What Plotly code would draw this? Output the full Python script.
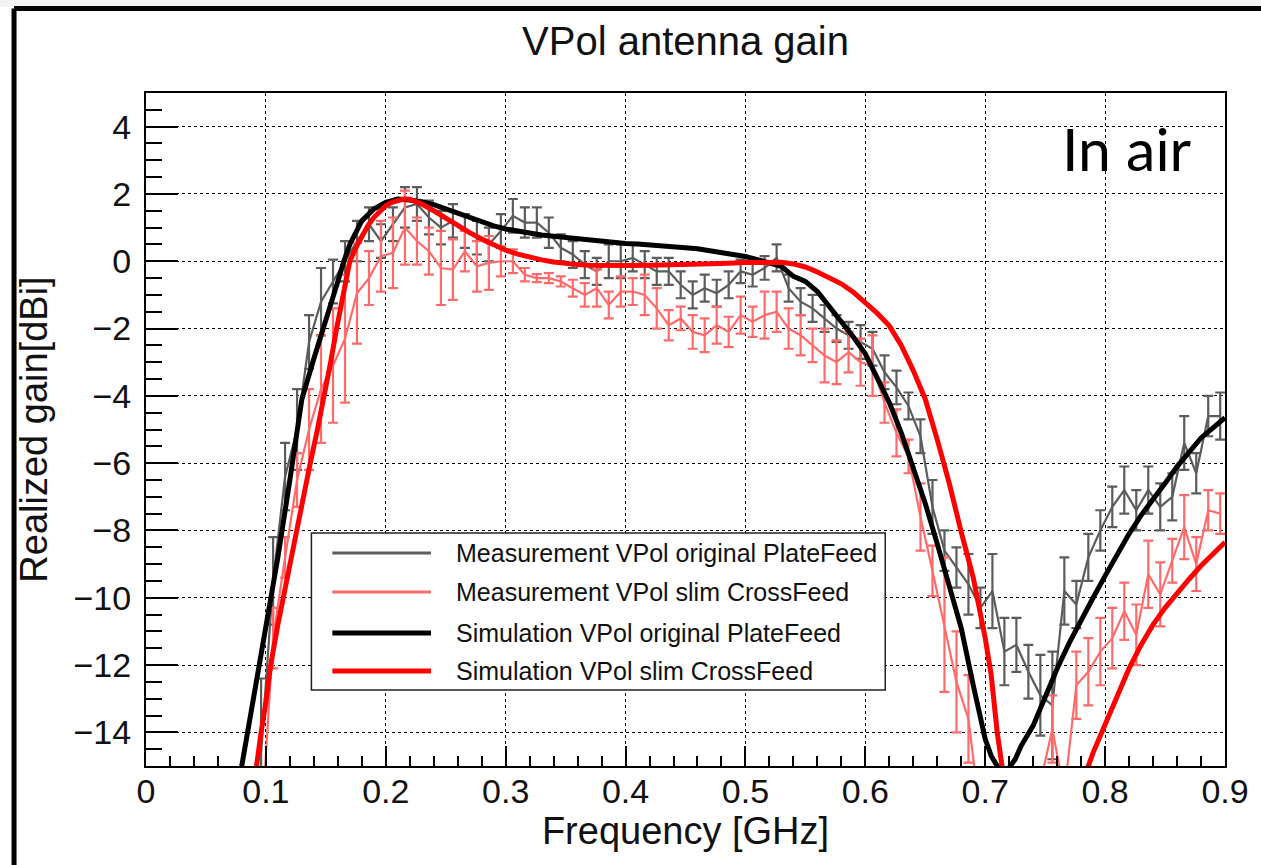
import plotly.graph_objects as go

# ---- measured gain, sampled every 10 MHz (GHz, dBi, +/- error) ----
freq_meas = [round(0.096 + 0.01 * k, 3) for k in range(81)]

gain_plate = [
    -14.6, -9.5, -6.4, -5.0, -2.4, -1.2, -0.6, 0.0, 0.6, 1.1,
    0.6, 1.1, 1.6, 1.7, 1.3, 1.0, 1.2, 0.9, 0.7, 0.5,
    0.9, 1.35, 1.15, 1.15, 0.85, 0.4, 0.2, -0.1, -0.3, 0.0,
    0.0, 0.1, -0.1, -0.3, -0.3, -0.7, -1.0, -0.8, -0.95, -0.7,
    -0.3, -0.4, -0.2, 0.1, -0.8, -1.2, -1.4, -1.7, -2.0, -2.2,
    -2.4, -2.6, -3.3, -3.75, -4.3, -5.2, -7.3, -8.6, -9.1, -9.6,
    -10.3, -9.8, -11.6, -11.4, -12.2, -12.9, -13.2, -9.8, -10.2, -8.8,
    -8.0, -7.3, -6.8, -7.4, -6.8, -7.3, -7.0, -5.4, -6.3, -4.6,
    -4.6,
]
err_plate = [
    2.2, 1.3, 1.0, 1.2, 0.8, 1.0, 0.65, 0.6, 0.6, 0.5,
    0.5, 0.5, 0.6, 0.5, 0.5, 0.5, 0.5, 0.5, 0.5, 0.5,
    0.5, 0.5, 0.45, 0.45, 0.45, 0.4, 0.4, 0.4, 0.4, 0.5,
    0.5, 0.4, 0.4, 0.4, 0.4, 0.4, 0.4, 0.4, 0.4, 0.4,
    0.35, 0.35, 0.35, 0.4, 0.4, 0.4, 0.4, 0.4, 0.4, 0.4,
    0.5, 0.5, 0.5, 0.5, 0.4, 0.5, 0.8, 0.6, 0.6, 0.9,
    0.6, 1.1, 1.0, 0.8, 0.8, 1.2, 1.6, 1.0, 0.7, 0.7,
    0.6, 0.6, 0.7, 0.6, 0.7, 0.7, 0.7, 0.8, 0.6, 0.6,
    0.7,
]

gain_cross = [
    -17.0, -11.2, -8.8, -6.5, -5.0, -3.8, -3.1, -2.3, -0.95, -0.5,
    0.15, 0.25, 1.0, 0.6, 0.3, -0.2, -0.25, 0.3, -0.15, -0.05,
    0.0, 0.0, -0.4, -0.5, -0.5, -0.6, -0.8, -1.0, -0.8, -1.3,
    -0.9, -0.9, -1.0, -1.4, -1.9, -1.7, -2.1, -2.2, -1.9, -2.1,
    -1.6, -1.8, -1.6, -1.5, -2.0, -2.2, -2.5, -2.8, -3.0, -2.7,
    -3.0, -3.1, -4.2, -5.1, -5.8, -7.6, -9.2, -10.8, -12.5, -13.6,
    -16.5, -18.0, -18.0, -18.0, -17.0, -15.5, -13.9, -15.8, -12.6, -12.2,
    -11.6, -11.2, -10.4, -11.1, -9.3, -9.9, -8.9, -7.9, -9.0, -7.4,
    -7.5,
]
err_cross = [
    0.0, 0.9, 0.6, 0.8, 1.2, 1.6, 1.7, 1.9, 1.5, 0.8,
    1.05, 1.05, 1.1, 0.7, 0.7, 1.1, 0.9, 0.6, 0.75, 0.8,
    0.45, 0.35, 0.2, 0.12, 0.15, 0.15, 0.25, 0.35, 0.55, 0.4,
    0.45, 0.4, 0.6, 0.6, 0.45, 0.35, 0.5, 0.5, 0.55, 0.45,
    0.55, 0.45, 0.7, 0.6, 0.6, 0.6, 0.5, 0.8, 0.65, 0.6,
    0.7, 0.9, 0.6, 0.7, 0.5, 1.0, 0.75, 2.0, 1.5, 1.3,
    0.0, 0.0, 0.0, 0.0, 0.0, 0.0, 1.0, 0.0, 1.0, 1.0,
    1.0, 0.9, 0.85, 0.9, 1.0, 0.95, 0.65, 0.95, 0.8, 0.6,
    0.6,
]

# ---- simulated gain ----
freq_sim_plate = [
    0.075, 0.08, 0.085, 0.09, 0.095, 0.10, 0.105, 0.11, 0.12, 0.13,
    0.14, 0.15, 0.16, 0.165, 0.17, 0.18, 0.19, 0.20, 0.21, 0.22,
    0.23, 0.24, 0.25, 0.26, 0.27, 0.28, 0.29, 0.30, 0.31, 0.32,
    0.33, 0.34, 0.35, 0.36, 0.37, 0.38, 0.39, 0.40, 0.41, 0.42,
    0.43, 0.44, 0.45, 0.46, 0.47, 0.48, 0.49, 0.50, 0.51, 0.52,
    0.53, 0.54, 0.55, 0.56, 0.57, 0.58, 0.59, 0.60, 0.61, 0.62,
    0.63, 0.64, 0.65, 0.66, 0.67, 0.68, 0.69, 0.70, 0.705, 0.71,
    0.715, 0.72, 0.725, 0.73, 0.74, 0.75, 0.76, 0.77, 0.78, 0.79,
    0.80, 0.81, 0.82, 0.83, 0.84, 0.85, 0.86, 0.87, 0.88, 0.89,
    0.90,
]
gain_sim_plate = [
    -16.0, -15.0, -14.0, -12.8, -12.0, -11.0, -10.0, -8.8, -6.5, -4.1,
    -2.9, -1.8, -0.6, 0.0, 0.5, 1.2, 1.55, 1.75, 1.85, 1.82,
    1.77, 1.68, 1.55, 1.42, 1.30, 1.18, 1.05, 0.96, 0.89, 0.83,
    0.78, 0.74, 0.70, 0.66, 0.62, 0.59, 0.56, 0.53, 0.51, 0.49,
    0.47, 0.44, 0.40, 0.37, 0.32, 0.27, 0.21, 0.14, 0.05, -0.05,
    -0.15, -0.45, -0.60, -0.9, -1.35, -1.75, -2.25, -2.75, -3.45, -4.2,
    -5.1, -6.1, -7.2, -8.4, -9.6, -10.9, -12.6, -14.2, -14.7, -15.0,
    -15.15, -15.05, -14.8, -14.4, -13.8, -12.95, -12.1, -11.35, -10.65, -10.0,
    -9.35, -8.7, -8.1, -7.55, -7.1, -6.6, -6.1, -5.65, -5.25, -4.95,
    -4.65,
]

freq_sim_cross = [
    0.088, 0.092, 0.096, 0.10, 0.104, 0.11, 0.115, 0.12, 0.125, 0.13,
    0.137, 0.143, 0.149, 0.154, 0.159, 0.165, 0.17, 0.175, 0.18, 0.185,
    0.19, 0.195, 0.20, 0.205, 0.21, 0.215, 0.22, 0.23, 0.24, 0.25,
    0.26, 0.27, 0.28, 0.29, 0.30, 0.31, 0.32, 0.33, 0.34, 0.35,
    0.36, 0.37, 0.38, 0.40, 0.42, 0.44, 0.46, 0.48, 0.50, 0.52,
    0.53, 0.54, 0.55, 0.56, 0.57, 0.58, 0.59, 0.60, 0.61, 0.62,
    0.63, 0.64, 0.65, 0.66, 0.67, 0.68, 0.69, 0.70, 0.705, 0.71,
    0.715, 0.72, 0.78, 0.786, 0.79, 0.80, 0.81, 0.82, 0.83, 0.84,
    0.85, 0.86, 0.87, 0.88, 0.89, 0.90,
]
gain_sim_cross = [
    -16.1, -15.0, -14.0, -13.1, -12.0, -10.8, -9.9, -8.9, -8.0, -7.1,
    -6.0, -5.0, -4.0, -3.0, -2.0, -1.0, 0.0, 0.4, 0.75, 1.05,
    1.3, 1.5, 1.65, 1.75, 1.82, 1.85, 1.84, 1.70, 1.50, 1.28,
    1.05, 0.85, 0.66, 0.48, 0.33, 0.21, 0.12, 0.04, -0.02, -0.07,
    -0.10, -0.12, -0.13, -0.13, -0.12, -0.11, -0.09, -0.07, -0.04, -0.02,
    -0.03, -0.08, -0.17, -0.32, -0.48, -0.67, -0.92, -1.22, -1.55, -1.92,
    -2.5, -3.25, -4.1, -5.3, -6.6, -8.05, -9.4, -11.2, -12.3, -14.0,
    -15.3, -16.5, -16.3, -15.0, -14.6, -13.75, -12.9, -12.1, -11.4, -10.8,
    -10.3, -9.85, -9.45, -9.05, -8.7, -8.35,
]

labels = [
    "Measurement VPol original PlateFeed",
    "Measurement VPol slim CrossFeed",
    "Simulation VPol original PlateFeed",
    "Simulation VPol slim CrossFeed",
]
colors = ["#5c5c5c", "#ff6b6b", "#000000", "#ff0000"]
widths = [2.2, 2.2, 5, 5]

FONT = "Liberation Sans, Arial, Helvetica, sans-serif"

fig = go.Figure()

fig.add_trace(go.Scatter(
    x=freq_meas, y=gain_plate, mode="lines", name=labels[0],
    line=dict(color=colors[0], width=widths[0]),
    error_y=dict(type="data", array=err_plate, visible=True,
                 color=colors[0], thickness=2.2, width=5),
    showlegend=False,
))
fig.add_trace(go.Scatter(
    x=freq_meas, y=gain_cross, mode="lines", name=labels[1],
    line=dict(color=colors[1], width=widths[1]),
    error_y=dict(type="data", array=err_cross, visible=True,
                 color=colors[1], thickness=2.2, width=5),
    showlegend=False,
))
fig.add_trace(go.Scatter(
    x=freq_sim_plate, y=gain_sim_plate, mode="lines", name=labels[2],
    line=dict(color=colors[2], width=widths[2]),
    showlegend=False,
))
fig.add_trace(go.Scatter(
    x=freq_sim_cross, y=gain_sim_cross, mode="lines", name=labels[3],
    line=dict(color=colors[3], width=widths[3]),
    showlegend=False,
))

# ---- legend box (ROOT style: long line samples, framed) ----
leg_x0, leg_x1 = 0.1533, 0.6851
leg_y0, leg_y1 = 0.1129, 0.3462
row_y = [0.3165, 0.2585, 0.1976, 0.1412]
shapes = [
    # page frame
    dict(type="rect", xref="paper", yref="paper", x0=-0.2, x1=1.1,
         y0=1.128, y1=1.3, fillcolor="#f2f2f2", line=dict(width=0), layer="above"),
    dict(type="line", xref="paper", yref="paper", x0=-0.1223, x1=1.1,
         y0=1.1256, y1=1.1256, line=dict(color="black", width=5), layer="above"),
    dict(type="line", xref="paper", yref="paper", x0=-0.1223, x1=-0.1223,
         y0=1.1256, y1=-0.2, line=dict(color="black", width=5), layer="above"),
    dict(type="rect", xref="paper", yref="paper", x0=leg_x0, x1=leg_x1,
         y0=leg_y0, y1=leg_y1, fillcolor="white",
         line=dict(color="#222222", width=1.5), layer="above"),
]
for i, y in enumerate(row_y):
    shapes.append(dict(type="line", xref="paper", yref="paper",
                       x0=0.1727, x1=0.2641, y0=y, y1=y,
                       line=dict(color=colors[i], width=widths[i] if widths[i] > 3 else 3),
                       layer="above"))

annotations = []
for i, y in enumerate(row_y):
    annotations.append(dict(xref="paper", yref="paper", x=0.2853, y=y,
                            xanchor="left", yanchor="middle", showarrow=False,
                            text=labels[i], font=dict(family=FONT, size=25, color="#111111")))
annotations.append(dict(xref="x", yref="y", x=0.8186, y=3.34, xanchor="center",
                        yanchor="middle", showarrow=False, text="In air",
                        font=dict(family="Lato, Open Sans, sans-serif", size=59, color="black")))

fig.update_layout(
    width=1261, height=865,
    margin=dict(l=146, r=32, t=93, b=99),
    paper_bgcolor="white", plot_bgcolor="white",
    font=dict(family=FONT, color="black"),
    title=dict(text="VPol antenna gain", x=0.5, xref="paper", xanchor="center",
               y=0.953, yref="container", yanchor="middle",
               font=dict(family=FONT, size=40, color="#111111")),
    shapes=shapes,
    annotations=annotations,
    showlegend=False,
)

fig.update_xaxes(
    range=[0, 0.9], dtick=0.1, tick0=0,
    showline=True, linecolor="black", linewidth=2, mirror=True,
    ticks="inside", ticklen=20, tickwidth=1.5, tickcolor="black",
    minor=dict(ticks="inside", ticklen=10, dtick=0.02, tickcolor="black", tickwidth=1.5),
    showgrid=True, gridcolor="black", griddash="dot", gridwidth=1,
    zeroline=False,
    tickfont=dict(family=FONT, size=34, color="#111111"),
    ticklabelstandoff=-6,
    title=dict(text="Frequency [GHz]", font=dict(family=FONT, size=38, color="#111111"),
               standoff=0),
)
fig.update_yaxes(
    range=[-15, 5], dtick=2, tick0=0,
    showline=True, linecolor="black", linewidth=2, mirror=True,
    ticks="inside", ticklen=32, tickwidth=1.5, tickcolor="black",
    minor=dict(ticks="inside", ticklen=16, dtick=0.5, tickcolor="black", tickwidth=1.5),
    showgrid=True, gridcolor="black", griddash="dot", gridwidth=1,
    zeroline=False,
    tickfont=dict(family=FONT, size=34, color="#111111"),
    ticklabelstandoff=6,
    title=dict(text="Realized gain[dBi]", font=dict(family=FONT, size=38, color="#111111"),
               standoff=14),
)

fig.write_html("out.html")
